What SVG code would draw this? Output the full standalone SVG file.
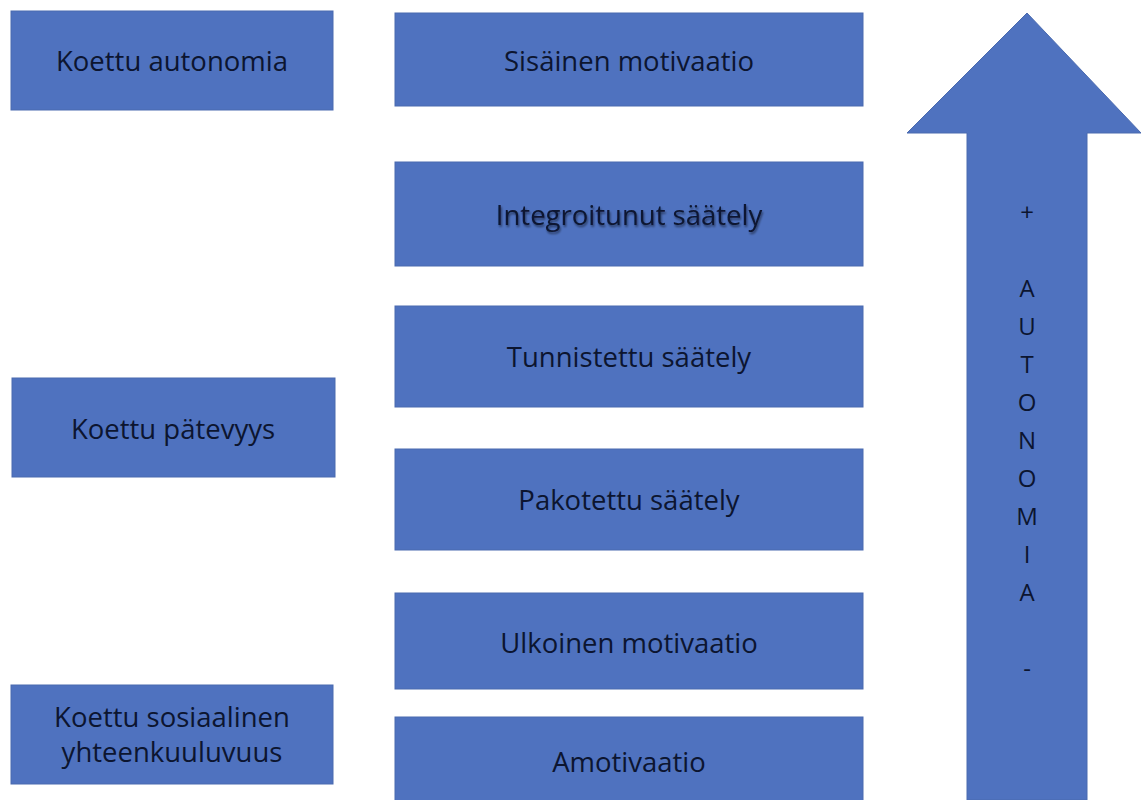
<svg xmlns="http://www.w3.org/2000/svg" width="1141" height="800" viewBox="0 0 1141 800">
<defs>
<style>
.box{fill:#4f72bf;stroke:#4a6aaf;stroke-width:1}
.t{font-family:"Open Sans",Lato,sans-serif;font-size:27.5px;fill:#0c1530;text-anchor:middle}
.a{font-family:"Open Sans",Lato,sans-serif;font-size:24px;fill:#0c1530;text-anchor:middle}
</style>
<filter id="sh" x="-10%" y="-30%" width="120%" height="160%">
<feGaussianBlur in="SourceAlpha" stdDeviation="1.2"/>
<feOffset dx="1" dy="1.5" result="o"/>
<feComponentTransfer><feFuncA type="linear" slope="0.5"/></feComponentTransfer>
<feMerge><feMergeNode/><feMergeNode in="SourceGraphic"/></feMerge>
</filter>
</defs>
<rect width="1141" height="800" fill="#ffffff"/>
<g id="arrow">
<polygon class="box" points="1027,13 1141,133 1087,133 1087,800 967,800 967,133 907,133"/>
<text class="a" x="1027" y="221">+</text>
<text class="a" x="1027" y="297">A</text>
<text class="a" x="1027" y="335">U</text>
<text class="a" x="1027" y="373">T</text>
<text class="a" x="1027" y="411">O</text>
<text class="a" x="1027" y="449">N</text>
<text class="a" x="1027" y="487">O</text>
<text class="a" x="1027" y="525">M</text>
<text class="a" x="1027" y="563">I</text>
<text class="a" x="1027" y="601">A</text>
<text class="a" x="1027" y="677">-</text>
</g>
<g id="koettu-autonomia">
<rect class="box" x="11" y="11" width="322" height="99"/>
<text class="t" x="172" y="71">Koettu autonomia</text>
</g>
<g id="koettu-patevyys">
<rect class="box" x="12" y="378" width="323" height="99"/>
<text class="t" x="173" y="439">Koettu pätevyys</text>
</g>
<g id="koettu-sosiaalinen">
<rect class="box" x="11" y="685" width="322" height="99"/>
<text class="t" x="172" y="727">Koettu sosiaalinen</text>
<text class="t" x="172" y="762">yhteenkuuluvuus</text>
</g>
<g id="sisainen">
<rect class="box" x="395" y="13" width="468" height="93"/>
<text class="t" x="629" y="71">Sisäinen motivaatio</text>
</g>
<g id="integroitunut">
<rect class="box" x="395" y="162" width="468" height="104"/>
<text class="t" x="629" y="225" filter="url(#sh)">Integroitunut säätely</text>
</g>
<g id="tunnistettu">
<rect class="box" x="395" y="306" width="468" height="101"/>
<text class="t" x="629" y="367">Tunnistettu säätely</text>
</g>
<g id="pakotettu">
<rect class="box" x="395" y="449" width="468" height="101"/>
<text class="t" x="629" y="510">Pakotettu säätely</text>
</g>
<g id="ulkoinen">
<rect class="box" x="395" y="593" width="468" height="96"/>
<text class="t" x="629" y="653">Ulkoinen motivaatio</text>
</g>
<g id="amotivaatio">
<rect class="box" x="395" y="717" width="468" height="90"/>
<text class="t" x="629" y="772">Amotivaatio</text>
</g>
<g id="connectors"></g>
</svg>
